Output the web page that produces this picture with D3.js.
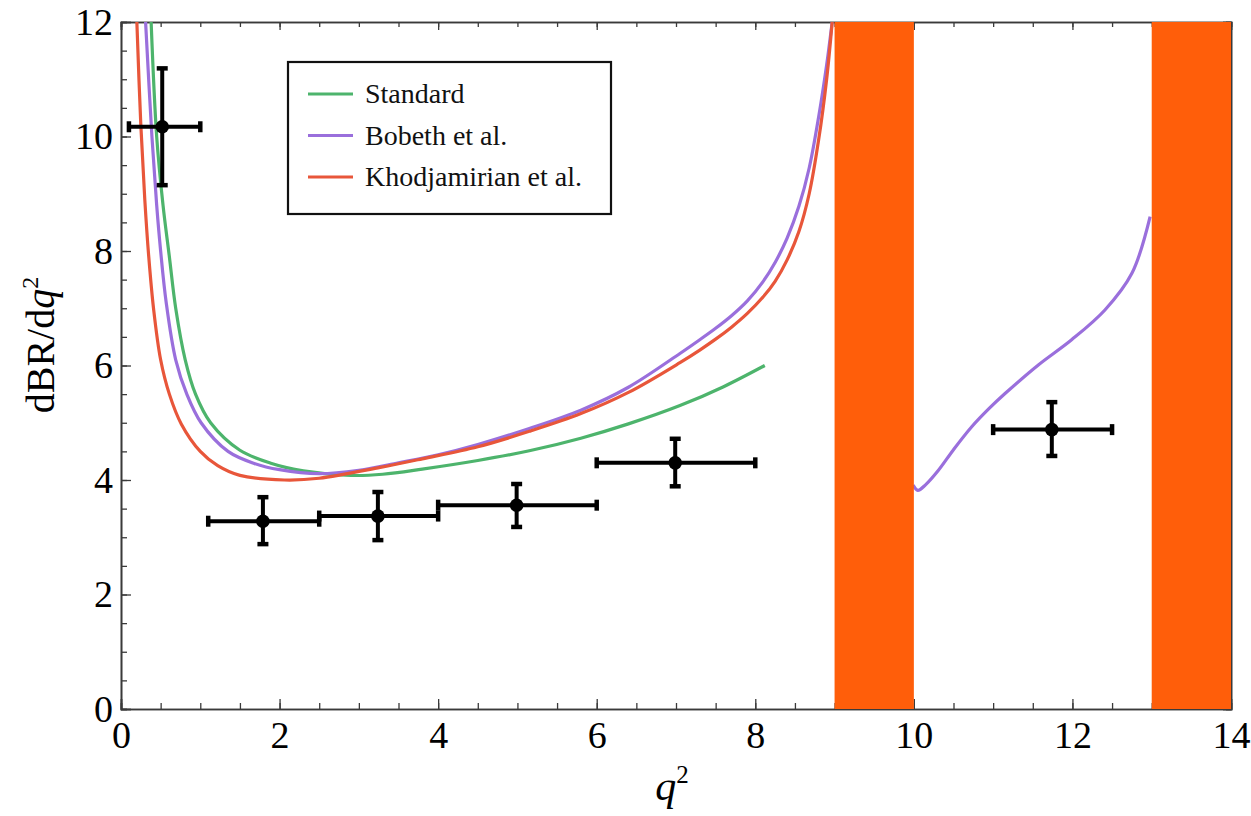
<!DOCTYPE html>
<html>
<head>
<meta charset="utf-8">
<script src="https://cdn.jsdelivr.net/npm/d3@7/dist/d3.min.js"></script>
<style>
  html, body { margin: 0; padding: 0; background: #fff; }
  svg text { font-family: "Liberation Serif", "DejaVu Serif", serif; }
</style>
</head>
<body>
<svg id="chart" width="1251" height="816"></svg>
<script>
// ---- Data ----
const seriesNames = ["Standard", "Bobeth et al.", "Khodjamirian et al."];
const seriesColors = ["#4db46c", "#9a6fdc", "#e8563a"];

const standardQ = [0.38, 0.45, 0.53, 0.61, 0.69, 0.81, 0.94, 1.13, 1.5, 1.9, 2.3, 2.9, 3.3, 3.8, 4.5, 5.15, 5.8, 6.4, 7.05, 7.6, 8.12];
const standardV = [12, 10, 8.8, 7.9, 7.0, 6.1, 5.5, 5.0, 4.52, 4.29, 4.16, 4.08, 4.1, 4.19, 4.34, 4.51, 4.73, 4.98, 5.3, 5.63, 6.0];

const bobethQ = [0.31, 0.39, 0.45, 0.5, 0.57, 0.69, 0.83, 1.01, 1.35, 1.68, 2.0, 2.5, 3.0, 3.5, 4.0, 4.5, 5.15, 5.8, 6.4, 7.05, 7.3, 7.5, 7.7, 7.9, 8.1, 8.25, 8.4, 8.55, 8.68, 8.8, 8.9, 8.97];
const bobethV = [12, 10, 8.8, 8.0, 7.1, 6.1, 5.5, 5.0, 4.5, 4.29, 4.18, 4.11, 4.17, 4.3, 4.44, 4.62, 4.9, 5.22, 5.62, 6.21, 6.45, 6.65, 6.87, 7.13, 7.47, 7.8, 8.22, 8.78, 9.45, 10.35, 11.25, 12];
const bobethHighQ = [9.99, 10.05, 10.15, 10.31, 10.5, 10.73, 10.95, 11.15, 11.57, 11.99, 12.41, 12.75, 12.98];
const bobethHighV = [3.91, 3.82, 3.92, 4.17, 4.53, 4.93, 5.25, 5.51, 6.01, 6.45, 6.97, 7.61, 8.6];

const khodQ = [0.20, 0.25, 0.30, 0.35, 0.41, 0.50, 0.61, 0.76, 1.0, 1.22, 1.5, 2.06, 2.5, 3.27, 3.8, 4.5, 5.15, 5.8, 6.4, 7.05, 7.3, 7.5, 7.7, 7.9, 8.1, 8.25, 8.4, 8.55, 8.68, 8.8, 8.9, 8.97];
const khodV = [12, 10.2, 8.9, 7.9, 7.0, 6.1, 5.5, 4.98, 4.5, 4.25, 4.08, 4.0, 4.03, 4.22, 4.37, 4.58, 4.85, 5.16, 5.53, 6.05, 6.27, 6.46, 6.67, 6.91, 7.2, 7.47, 7.84, 8.34, 9.0, 9.95, 11.0, 12];

// experimental points
const dataX   = [0.52, 1.79, 3.24, 4.99, 6.99, 11.74];
const dataY   = [10.17, 3.28, 3.37, 3.56, 4.30, 4.88];
const dataXlo = [0.1, 1.1, 2.5, 4.0, 6.0, 11.0];
const dataXhi = [1.0, 2.5, 4.0, 6.0, 8.0, 12.5];
const dataYlo = [9.15, 2.88, 2.95, 3.18, 3.89, 4.42];
const dataYhi = [11.19, 3.70, 3.79, 3.93, 4.72, 5.36];

// vetoed bands
const bandLo = [9, 13];
const bandHi = [10, 14];

const xTicks = [0, 2, 4, 6, 8, 10, 12, 14];
const yTicks = [0, 2, 4, 6, 8, 10, 12];
const xMinorTicks = d3.range(0, 14.01, 0.5);
const yMinorTicks = d3.range(0, 12.01, 0.5);

// ---- Layout ----
const L = 121, R = 1231, T = 22, B = 709;
const FONT = '"Liberation Serif", "DejaVu Serif", serif';
const svg = d3.select("#chart");
const x = d3.scaleLinear().domain([0, 14]).range([L, R]);
const y = d3.scaleLinear().domain([0, 12]).range([B, T]);

svg.append("defs").append("clipPath").attr("id", "clip")
  .append("rect").attr("x", L).attr("y", T).attr("width", R - L).attr("height", B - T);

const frameColor = "#3a3a3a";

function styleAxis(g) {
  g.attr("font-family", FONT).attr("font-size", 38);
  g.select(".domain").attr("stroke", frameColor).attr("stroke-width", 1.6);
  g.selectAll(".tick line").attr("stroke", frameColor).attr("stroke-width", 1.3);
  g.selectAll(".tick text").attr("fill", "#000");
}

// minor ticks
svg.append("g").attr("transform", `translate(0,${B})`)
  .call(d3.axisBottom(x).tickValues(xMinorTicks).tickSize(-6).tickFormat(""))
  .call(styleAxis);
svg.append("g").attr("transform", `translate(${L},0)`)
  .call(d3.axisLeft(y).tickValues(yMinorTicks).tickSize(-6).tickFormat(""))
  .call(styleAxis);
svg.append("g").attr("transform", `translate(0,${T})`)
  .call(d3.axisTop(x).tickValues(xMinorTicks).tickSize(-5).tickFormat(""))
  .call(styleAxis);
svg.append("g").attr("transform", `translate(${R},0)`)
  .call(d3.axisRight(y).tickValues(yMinorTicks).tickSize(-5).tickFormat(""))
  .call(styleAxis);

// major ticks
svg.append("g").attr("transform", `translate(0,${B})`)
  .call(d3.axisBottom(x).tickValues(xTicks).tickSize(-10).tickPadding(12).tickFormat(d3.format("d")))
  .call(styleAxis);
svg.append("g").attr("transform", `translate(${L},0)`)
  .call(d3.axisLeft(y).tickValues(yTicks).tickSize(-10).tickPadding(8).tickFormat(d3.format("d")))
  .call(styleAxis);
svg.append("g").attr("transform", `translate(0,${T})`)
  .call(d3.axisTop(x).tickValues(xTicks).tickSize(-8).tickFormat(""))
  .call(styleAxis);
svg.append("g").attr("transform", `translate(${R},0)`)
  .call(d3.axisRight(y).tickValues(yTicks).tickSize(-8).tickFormat(""))
  .call(styleAxis);

// ---- Curves ----
const line = d3.line().x(d => x(d[0])).y(d => y(d[1])).curve(d3.curveCatmullRom.alpha(0.5));
const curves = [
  { pts: d3.zip(standardQ, standardV), color: seriesColors[0] },
  { pts: d3.zip(bobethQ, bobethV), color: seriesColors[1] },
  { pts: d3.zip(bobethHighQ, bobethHighV), color: seriesColors[1] },
  { pts: d3.zip(khodQ, khodV), color: seriesColors[2] }
];
const cg = svg.append("g").attr("clip-path", "url(#clip)");
curves.forEach(c => {
  cg.append("path").attr("d", line(c.pts)).attr("fill", "none")
    .attr("stroke", c.color).attr("stroke-width", 3.2).attr("stroke-linejoin", "round");
});

// ---- Bands ----
svg.append("g").selectAll("rect").data(d3.zip(bandLo, bandHi)).join("rect")
  .attr("x", d => x(d[0])).attr("width", d => x(d[1]) - x(d[0]))
  .attr("y", T).attr("height", B - T).attr("fill", "#ff5e0a");

// ---- Data points with error bars ----
const pts = dataX.map((d, i) => ({ x: d, y: dataY[i], xlo: dataXlo[i], xhi: dataXhi[i], ylo: dataYlo[i], yhi: dataYhi[i] }));
const pg = svg.append("g").attr("stroke", "#000").attr("fill", "#000");
pts.forEach(p => {
  const g = pg.append("g");
  g.append("line").attr("x1", x(p.xlo)).attr("x2", x(p.xhi)).attr("y1", y(p.y)).attr("y2", y(p.y)).attr("stroke-width", 4);
  g.append("line").attr("x1", x(p.x)).attr("x2", x(p.x)).attr("y1", y(p.ylo)).attr("y2", y(p.yhi)).attr("stroke-width", 4);
  // caps
  [p.xlo, p.xhi].forEach(v => g.append("line").attr("x1", x(v)).attr("x2", x(v))
    .attr("y1", y(p.y) - 5.5).attr("y2", y(p.y) + 5.5).attr("stroke-width", 4.5));
  [p.ylo, p.yhi].forEach(v => g.append("line").attr("x1", x(p.x) - 5.5).attr("x2", x(p.x) + 5.5)
    .attr("y1", y(v)).attr("y2", y(v)).attr("stroke-width", 4.5));
  g.append("circle").attr("cx", x(p.x)).attr("cy", y(p.y)).attr("r", 6.8).attr("stroke", "none");
});

// ---- Legend ----
const lg = svg.append("g");
lg.append("rect").attr("x", 288).attr("y", 62).attr("width", 323).attr("height", 152)
  .attr("fill", "#fff").attr("stroke", "#111").attr("stroke-width", 2.2);
seriesNames.forEach((name, i) => {
  const yy = 94 + i * 41.5;
  lg.append("line").attr("x1", 308).attr("x2", 353).attr("y1", yy).attr("y2", yy)
    .attr("stroke", seriesColors[i]).attr("stroke-width", 3.2);
  lg.append("text").attr("x", 365).attr("y", yy + 9).text(name)
    .attr("font-family", FONT).attr("font-size", 28).attr("fill", "#111");
});

// ---- Axis titles ----
const xt = svg.append("text").attr("x", 672).attr("y", 800).attr("text-anchor", "middle")
  .attr("font-family", FONT).attr("font-size", 42);
xt.append("tspan").style("font-style", "italic").text("q");
xt.append("tspan").attr("dy", -17).attr("font-size", 25).text("2");

const yt = svg.append("text").attr("transform", "translate(54,345) rotate(-90)")
  .attr("text-anchor", "middle").attr("font-family", FONT).attr("font-size", 40);
yt.append("tspan").text("dBR/d");
yt.append("tspan").style("font-style", "italic").text("q");
yt.append("tspan").attr("dy", -16).attr("font-size", 24).text("2");
</script>
</body>
</html>
